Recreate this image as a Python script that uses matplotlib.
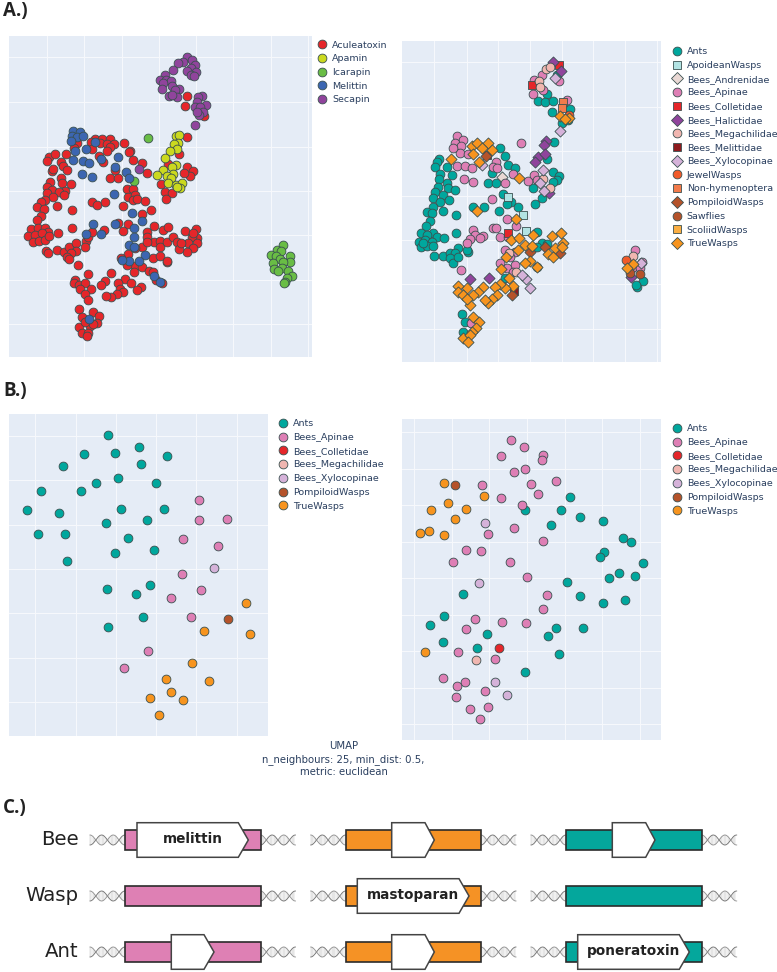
import numpy as np
import matplotlib
matplotlib.use('Agg')
import matplotlib.pyplot as plt
from matplotlib.lines import Line2D
from matplotlib.patches import Polygon, Rectangle

W, H = 777, 972

# ── Panel A left: toxin families (x, y) ──
aculeatoxin = [(285,418),(305,418),(330,416),(272,425),(300,430),(320,432),(343,433),(330,440),(322,452),(275,447),
    (372,428),(390,452),(388,455),(296,469),(310,485),(400,480),(425,489),(440,519),(330,533),(355,535),(345,510),
    (230,430),(222,443),(198,463),(147,470),(165,463),(140,484),(182,486),(188,497),(155,512),(160,507),(200,510),
    (150,545),(183,533),(185,550),(212,553),(140,560),(155,570),(195,572),(178,575),(192,585),(140,580),(158,590),
    (135,600),(122,607),(110,622),(132,626),(170,617),(124,647),(110,661),(215,631),(275,607),(292,616),(316,607),
    (368,617),(380,568),(398,566),(385,590),(405,585),(398,600),(410,597),(434,604),(452,630),(426,642),
    (93,687),(115,685),(135,684),(145,695),(85,707),(105,705),(125,700),(98,725),(118,722),(135,720),(175,699),
    (215,684),(148,708),(137,752),(143,760),(170,750),(192,757),(207,740),(227,730),(228,752),(212,760),(200,770),
    (208,776),(258,724),(256,742),(265,710),(275,695),(312,690),(235,794),(355,668),(385,672),(370,694),(442,697),
    (463,679),(490,690),(504,681),(555,692),(588,687),(440,712),(463,727),(480,722),(480,740),(500,725),(520,712),
    (530,727),(590,714),(575,710),(565,730),(592,730),(580,745),(560,755),(538,747),(425,742),(440,725),(385,762),
    (362,775),(405,745),(460,773),(480,767),(502,785),(502,782),(580,700),(542,730),(405,798),(380,795),(427,800),
    (448,812),(403,817),(375,838),(355,848),(392,848),(423,862),(410,871),(360,868),(370,877),(350,882),(332,890),
    (318,887),(458,815),(468,840),(485,850),(332,818),(316,842),(302,855),(265,822),(225,840),(222,850),(238,855),
    (255,850),(240,868),(272,868),(255,882),(264,900),(238,928),(247,952),(278,935),(298,949),(290,968),(270,978),
    (238,982),(245,1000),(265,998),(262,1008),(280,972),(255,965),(505,492),(537,462),(562,412),(560,288),(555,319),
    (613,347),(561,500),(580,512),(570,528),(553,520),(483,552),(496,575),(517,580),(497,597)]
apamin = [(528,408),(538,405),(535,430),(522,433),(530,447),(510,453),(494,473),(528,494),(515,500),(490,510),
    (472,526),(520,522),(500,527),(512,534),(505,548),(527,555),(547,549),(540,563),(530,560)]
icarapin = [(445,413),(403,543),(848,735),(830,750),(843,752),(813,765),(828,768),(870,768),(840,777),(818,790),
    (870,787),(850,785),(845,805),(822,807),(865,812),(835,812),(876,828),(860,835),(855,845),(852,850)]
melittin = [(220,392),(240,395),(215,408),(232,410),(250,407),(213,423),(285,425),(259,447),(226,452),(218,481),
    (248,482),(268,488),(303,477),(355,472),(346,502),(245,522),(275,530),(378,516),(388,535),(342,582),(397,640),
    (427,663),(346,671),(278,673),(258,702),(303,702),(401,683),(401,711),(388,735),(402,742),(435,765),(418,782),
    (388,784),(367,780),(462,827),(480,845),(268,957)]
secapin = [(561,172),(576,180),(548,186),(533,190),(585,196),(573,205),(518,209),(588,215),(560,212),(573,225),
    (583,228),(494,224),(480,240),(498,240),(513,242),(490,250),(517,258),(536,268),(486,268),(525,270),(508,288),
    (530,291),(516,285),(605,287),(594,292),(590,305),(618,314),(585,322),(600,322),(610,335),(596,345),(585,376),
    (418,507),(590,335)]

# ── Panel A right: taxa ──
a_ants = [(500,165),(470,222),(445,243),(465,247),(490,243),(487,275),(540,268),(515,310),(535,300),(330,383),
    (345,407),(353,435),(375,445),(492,367),(470,417),(490,456),(507,467),(500,480),(490,487),(430,505),(455,533),
    (435,552),(305,458),(295,488),(317,490),(340,522),(362,545),(350,553),(385,560),(283,562),(248,562),(327,573),
    (197,586),(198,640),(160,572),(440,635),(440,740),(345,775),(455,670),(470,672),(440,682),(148,417),(140,425),
    (135,440),(170,440),(185,465),(150,462),(148,477),(145,500),(170,490),(175,505),(195,510),(135,515),(160,525),
    (130,535),(150,545),(178,540),(130,560),(110,577),(126,580),(120,603),(108,617),(93,640),(130,638),(110,645),
    (140,650),(88,665),(105,660),(125,665),(163,655),(92,680),(110,678),(128,677),(100,670),(133,708),(158,707),
    (180,700),(205,685),(195,700),(180,715),(190,730),(205,712),(233,695),(232,690),(217,883),(225,907),(218,937),
    (740,800),(758,784),(738,795)]
a_apoidean = [(353,531),(398,586),(408,633)]
a_andrenidae = [(335,472)]
a_apinae = [(455,165),(433,180),(445,188),(460,210),(428,223),(508,183),(530,240),(200,347),(220,360),(195,370),
    (213,378),(210,400),(190,385),(235,403),(200,437),(224,437),(245,443),(223,478),(248,485),(393,368),(318,425),
    (310,440),(320,445),(370,463),(345,490),(415,482),(432,465),(440,480),(305,538),(350,596),(377,618),(310,625),
    (317,624),(330,650),(250,630),(255,645),(240,658),(232,668),(278,647),(270,655),(355,650),(345,690),(375,695),
    (360,710),(330,730),(375,735),(350,745),(370,755),(213,749),(243,908),(735,690),(755,725),(725,745),(750,745)]
a_colletidae = [(507,135),(425,195),(355,638)]
a_halictidae = [(490,125),(512,152),(468,362),(462,375),(445,410),(465,403),(435,427),(240,778),(297,773),(478,520),(722,770)]
a_megachilidae = [(468,147),(480,140),(447,182),(450,200),(357,700),(377,755),(460,478),(480,505),(728,707)]
a_melittidae = [(372,812),(290,405)]
a_xylocopinae = [(495,173),(511,332),(460,450),(450,488),(463,512),(408,778),(420,803),(395,765),(752,730),(275,435)]
a_jewel = [(707,720),(537,285)]
a_nonhym = [(520,247),(515,263)]
a_pompiloid = [(465,680),(510,700),(420,697),(365,825),(287,408)]
a_sawflies = [(750,762),(720,758)]
a_scoliid = []
a_true = [(510,287),(537,295),(525,297),(183,418),(245,377),(260,370),(295,368),(275,385),(305,390),(250,402),
    (267,427),(388,475),(262,572),(377,598),(430,645),(487,647),(513,640),(518,668),(362,660),(388,655),(405,675),
    (425,677),(385,690),(495,685),(473,702),(490,710),(515,680),(348,712),(420,722),(405,730),(440,740),(333,748),
    (357,773),(370,798),(345,803),(330,793),(315,800),(322,825),(305,838),(295,848),(285,840),(280,800),(265,817),
    (240,855),(248,825),(232,805),(205,797),(203,815),(220,825),(230,838),(250,890),(267,905),(258,925),(245,935),
    (220,955),(240,945),(235,965),(730,733),(710,743)]

# ── Panel B left ──
bl_ants = [(324,181),(416,215),(251,238),(345,234),(502,244),(424,267),(189,274),(354,310),(288,325),(468,325),
    (124,347),(244,348),(82,405),(178,414),(362,401),(491,403),(440,434),(319,445),(115,478),(194,476),(384,489),
    (463,525),(345,533),(201,559),(320,641),(449,631),(409,657),(428,725),(323,756)]
bl_apinae = [(598,376),(596,435),(680,431),(548,492),(655,514),(547,598),(603,644),(513,669),(574,725),(443,828),(372,880)]
bl_xylocopinae = [(643,578)]
bl_pompiloid = [(683,733)]
bl_true = [(739,683),(613,767),(751,777),(575,863),(498,912),(626,919),(514,952),(450,970),(550,975),(478,1020)]

# ── Panel B right ──
br_ants = [(540,367),(404,405),(512,404),(571,425),(640,439),(483,449),(698,488),(723,500),(643,532),(629,545),
    (758,565),(688,593),(736,604),(658,610),(531,622),(220,657),(569,664),(638,684),(705,675),(162,722),(120,751),
    (498,758),(579,760),(290,777),(473,782),(160,800),(261,820),(507,838),(405,891)]
br_apinae = [(364,194),(401,215),(334,244),(459,240),(455,254),(406,281),(372,291),(499,318),(276,330),(424,327),
    (445,356),(333,369),(396,391),(372,458),(295,476),(458,497),(229,526),(273,529),(188,561),(360,562),(412,606),
    (472,660),(459,701),(255,733),(337,742),(409,745),(227,762),(203,832),(316,851),(158,908),(225,920),(202,933),
    (285,948),(199,967),(294,995),(240,1002),(269,1032)]
br_colletidae = [(328,818)]
br_megachilidae = [(257,856)]
br_xylocopinae = [(284,443),(268,623),(316,920),(352,959)]
br_pompiloid = [(196,330)]
br_true = [(163,324),(282,364),(173,384),(124,404),(228,402),(195,433),(116,468),(89,473),(162,481),(105,830)]

# colours / markers per legend entry
STYLE = {
    'Aculeatoxin': ('#e5262a', 'o'), 'Apamin': ('#cbd91f', 'o'), 'Icarapin': ('#69bd45', 'o'),
    'Melittin': ('#3c66b1', 'o'), 'Secapin': ('#90449c', 'o'),
    'Ants': ('#00a79d', 'o'), 'ApoideanWasps': ('#b2e3e3', 's'), 'Bees_Andrenidae': ('#ead8d4', 'D'),
    'Bees_Apinae': ('#de7fb5', 'o'), 'Bees_Colletidae': ('#e5262a', 's'), 'Bees_Halictidae': ('#90449c', 'D'),
    'Bees_Megachilidae': ('#f0b6b0', 'o'), 'Bees_Melittidae': ('#8e1b1e', 's'), 'Bees_Xylocopinae': ('#d5b2d9', 'D'),
    'JewelWasps': ('#f15a29', 'o'), 'Non-hymenoptera': ('#f37b4b', 's'), 'PompiloidWasps': ('#b5532a', 'D'),
    'Sawflies': ('#b5532a', 'o'), 'ScoliidWasps': ('#fbae42', 's'), 'TrueWasps': ('#f7941e', 'D'),
}
MARKER_AREA = {'o': 40, 's': 36, 'D': 32}
TEXT = '#2a3f5f'
EDGE = '#3a5050'

panel_a_left = [('Aculeatoxin', aculeatoxin), ('Apamin', apamin), ('Icarapin', icarapin),
                ('Melittin', melittin), ('Secapin', secapin)]
panel_a_right = [('Ants', a_ants), ('ApoideanWasps', a_apoidean), ('Bees_Andrenidae', a_andrenidae),
                 ('Bees_Apinae', a_apinae), ('Bees_Colletidae', a_colletidae), ('Bees_Halictidae', a_halictidae),
                 ('Bees_Megachilidae', a_megachilidae), ('Bees_Melittidae', a_melittidae),
                 ('Bees_Xylocopinae', a_xylocopinae), ('JewelWasps', a_jewel), ('Non-hymenoptera', a_nonhym),
                 ('PompiloidWasps', a_pompiloid), ('Sawflies', a_sawflies), ('ScoliidWasps', a_scoliid),
                 ('TrueWasps', a_true)]
panel_b_left = [('Ants', bl_ants), ('Bees_Apinae', bl_apinae), ('Bees_Colletidae', []), ('Bees_Megachilidae', []),
                ('Bees_Xylocopinae', bl_xylocopinae), ('PompiloidWasps', bl_pompiloid), ('TrueWasps', bl_true)]
panel_b_right = [('Ants', br_ants), ('Bees_Apinae', br_apinae), ('Bees_Colletidae', br_colletidae),
                 ('Bees_Megachilidae', br_megachilidae), ('Bees_Xylocopinae', br_xylocopinae),
                 ('PompiloidWasps', br_pompiloid), ('TrueWasps', br_true)]

fig = plt.figure(figsize=(W / 100, H / 100), dpi=100, facecolor='white')


def scatter_panel(series, box, lims, xgrid, ygrid, legend_xy, circles_only=False):
    """box = x0, y0, x1, y1 in figure pixels, lims = data limits of that box."""
    x0, y0, x1, y1 = box
    ax = fig.add_axes([x0 / W, 1 - y1 / H, (x1 - x0) / W, (y1 - y0) / H])
    ax.set_facecolor('#e5ecf6')
    ax.set_xlim(lims[0], lims[1])
    ax.set_ylim(lims[3], lims[2])
    ax.set_xticks(xgrid)
    ax.set_yticks(ygrid)
    ax.tick_params(length=0, labelbottom=False, labelleft=False)
    ax.grid(color='#f6f8fc', lw=0.8)
    ax.set_axisbelow(True)
    for s in ax.spines.values():
        s.set_visible(False)

    handles = []
    for i, (name, pts) in enumerate(series):
        col, mk = STYLE[name]
        if circles_only:
            mk = 'o'
        if pts:
            arr = np.array(pts)
            ax.scatter(arr[:, 0], arr[:, 1], s=MARKER_AREA[mk], c=col, marker=mk,
                       edgecolors=EDGE, linewidths=0.6, zorder=3 + i * 0.01)
        handles.append(Line2D([], [], ls='', marker=mk, ms=np.sqrt(MARKER_AREA[mk]),
                              mfc=col, mec=EDGE, mew=0.6, label=name))
    lx = (legend_xy[0] - x0) / (x1 - x0)
    ly = 1 - (legend_xy[1] - y0) / (y1 - y0)
    ax.legend(handles=handles, loc='upper left', bbox_to_anchor=(lx, ly), frameon=False,
              borderaxespad=0, borderpad=0, handlelength=1.0, handletextpad=0.55,
              labelspacing=0.5, fontsize=6.8, labelcolor=TEXT)
    return ax


scatter_panel(panel_a_left, (9.3, 36, 312, 357.3), (28, 936, 108, 1072),
              [140, 253, 365, 477, 589, 700, 813, 925], [172, 305, 440, 572, 706, 840, 973], (317.3, 40.5))
scatter_panel(panel_a_right, (402, 41, 660.7, 362.3), (36, 812, 63, 1027),
              [133, 230, 325, 420, 515, 610, 705, 800], [127, 262, 394, 527, 660, 793, 927], (672, 47.2))
scatter_panel(panel_b_left, (9.3, 414.3, 268, 735.7), (28, 804, 118, 1082),
              [105, 227, 347, 467, 588, 710], [183, 316, 449, 583, 715, 850, 982], (278, 419.2), circles_only=True)
scatter_panel(panel_b_right, (402, 418.7, 660.7, 739.7), (36, 812, 131, 1094),
              [73, 186, 298, 411, 524, 636, 749], [171, 281, 391, 501, 610, 720, 829, 939, 1048], (672, 424.2),
              circles_only=True)

# overlay in figure pixels for labels and the gene panel
ov = fig.add_axes([0, 0, 1, 1], facecolor='none')
ov.set_xlim(0, W)
ov.set_ylim(H, 0)
ov.axis('off')

for lab, y in [('A.)', 11), ('B.)', 391), ('C.)', 808)]:
    ov.text(3, y, lab, fontsize=13.5, fontweight='bold', color='#222222', family='Open Sans',
            ha='left', va='center')

for line, y in [('UMAP', 746), ('n_neighbours: 25, min_dist: 0.5,', 759.5), ('metric: euclidean', 772)]:
    ov.text(343.5, y, line, fontsize=7.3, color=TEXT, ha='center', va='center')

# ── Panel C: gene cassettes ──
rows = ['Bee', 'Wasp', 'Ant']
row_y = [840, 896, 952]
cols = [(125, 260.5, '#de80b4'), (345.7, 481, '#f59225'), (566, 701.7, '#04a79c')]
# (row, col, start), x in figure pixels
peptide_start = [(0, 0, 137), (1, 1, 357.3), (2, 2, 577.7), (2, 0, 171.3), (0, 1, 391.7), (2, 1, 391.7), (0, 2, 612.3)]
peptide_tip = [248.3, 469, 689.3, 214, 434.3, 434.3, 655]
peptide_shoulder = [238.3, 459, 679.3, 204, 425, 425, 645.7]
peptide_names = ['melittin', 'mastoparan', 'poneratoxin', '', '', '', '']


def helix(x0, x1, y, start_phase):
    # decorative double helix either side of a cassette
    x = np.linspace(x0, x1, 160)
    phase = (x - x0) / 11.6 * np.pi + start_phase
    for rx in np.arange(x0, x1, 1.3):
        amp = 5 * np.sin((rx - x0) / 11.6 * np.pi + start_phase)
        ov.plot([rx, rx], [y - amp, y + amp], color='#c4c4c4', lw=0.35, zorder=1)
    ov.plot(x, y + 5 * np.sin(phase), color='#6f6f6f', lw=0.6, zorder=2)
    ov.plot(x, y - 5 * np.sin(phase), color='#8f8f8f', lw=0.6, zorder=2)


for ry, lab in zip(row_y, rows):
    ov.text(78.5, ry - 1, lab, fontsize=14.2, color='#222222', ha='right', va='center')
    for cx0, cx1, col in cols:
        helix(cx0 - 35, cx0, ry, np.pi / 2)
        helix(cx1, cx1 + 35, ry, np.pi / 2)
        ov.add_patch(Rectangle((cx0, ry - 10), cx1 - cx0, 20, fc=col, ec='#2b2b2b', lw=1.2, zorder=3))

for (r, c, start), tip, sh, name in zip(peptide_start, peptide_tip, peptide_shoulder, peptide_names):
    y = row_y[r]
    pts = [(start, y - 17.3), (sh, y - 17.3), (tip, y), (sh, y + 17.3), (start, y + 17.3)]
    ov.add_patch(Polygon(pts, closed=True, fc='white', ec='#444444', lw=1.1, zorder=4))
    if name:
        ov.text((start + tip) / 2, y - 1, name, fontsize=9.8, fontweight='bold', color='#222222',
                ha='center', va='center', zorder=5)

fig.savefig('out.png', dpi=100, facecolor='white')
